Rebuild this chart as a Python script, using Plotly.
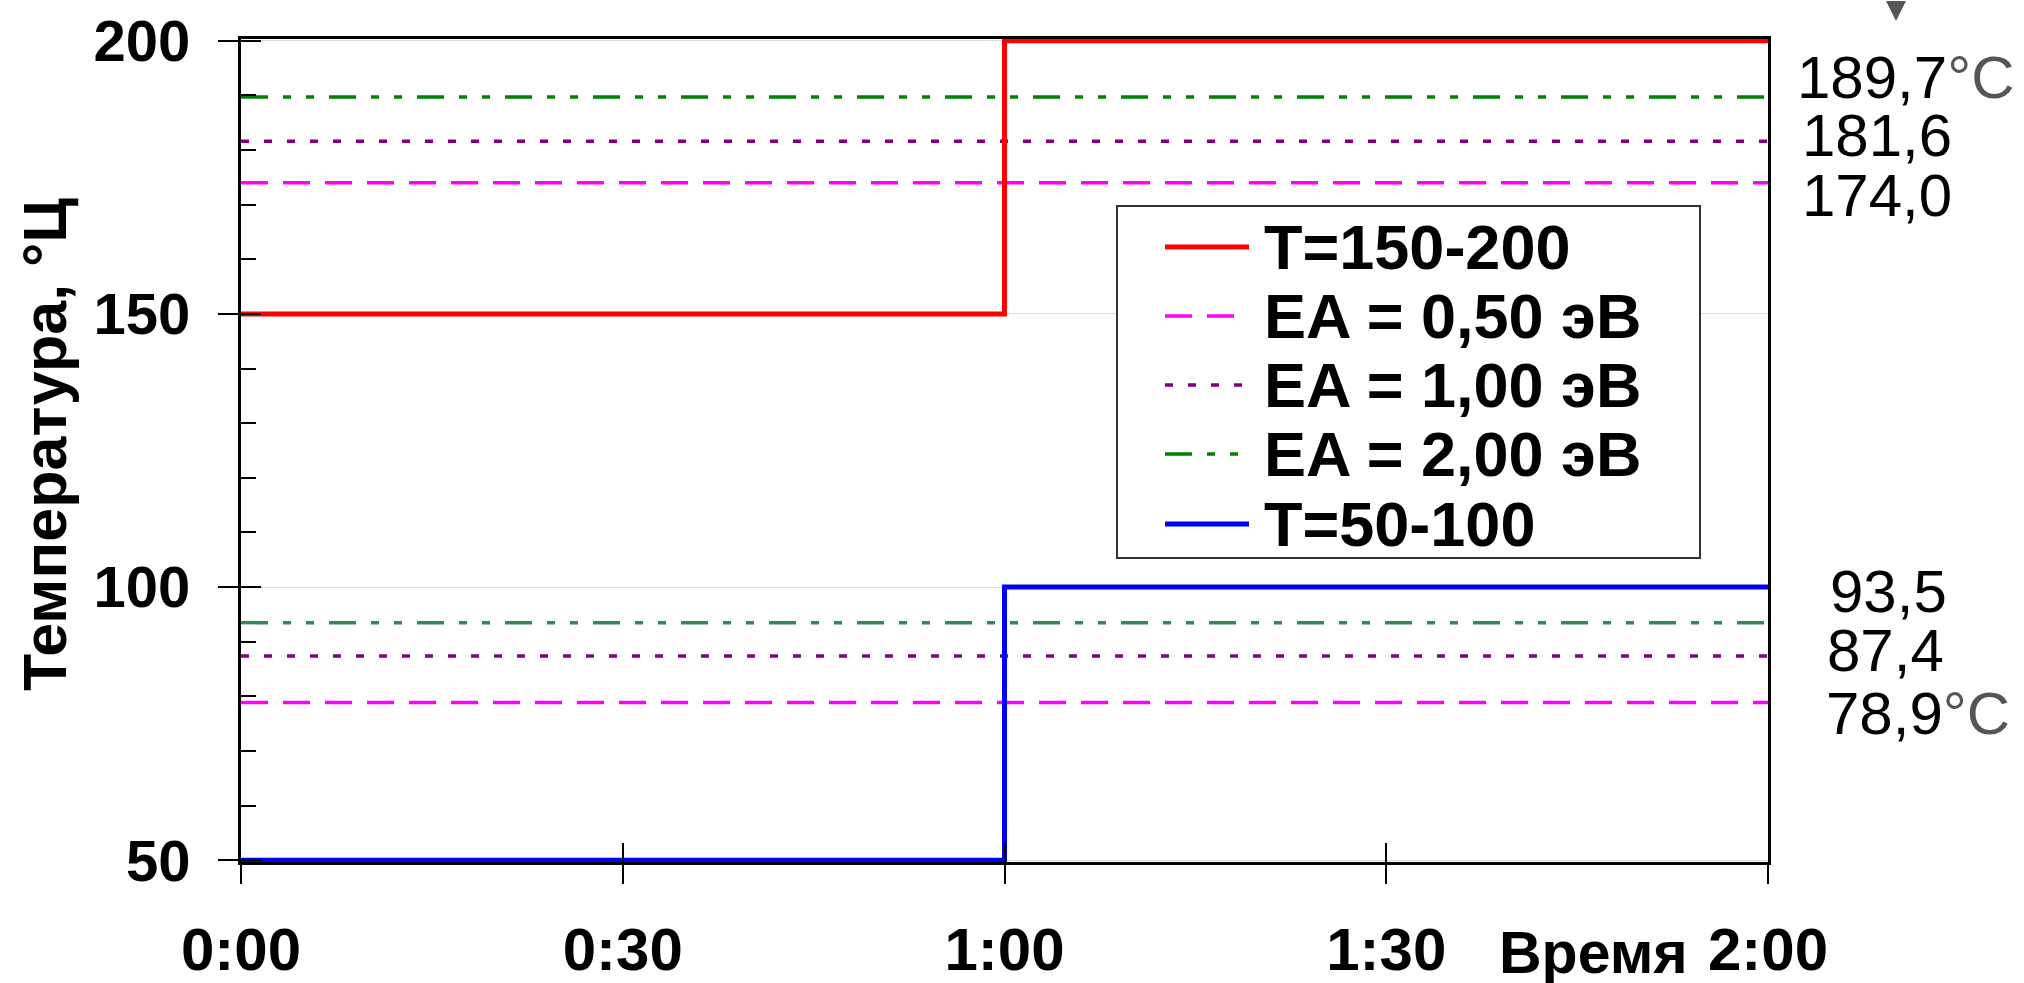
import plotly.graph_objects as go

# ---------------- data ----------------
time_min = [0, 60, 120]
tick_vals = [0, 30, 60, 90, 120]
tick_text = ["0:00", "0:30", "1:00", "1:30", "2:00"]
y_tick_vals = [50, 100, 150, 200]

t_high_name = "T=150-200"
t_high = [150, 200, 200]
t_low_name = "T=50-100"
t_low = [50, 100, 100]

ea_names = ["EA = 0,50 эВ", "EA = 1,00 эВ", "EA = 2,00 эВ"]
ea_high = [174.0, 181.6, 189.7]
ea_low = [78.9, 87.4, 93.5]

# ---------------- styles ----------------
FONT = "Liberation Sans, Arial, sans-serif"
ea_col_high = ["#FF00FF", "#800080", "#008000"]
ea_col_low = ["#FF00FF", "#800080", "#2E8B57"]
ea_dash = ["27px,15px", "8px,15px", "27px,15px,8px,15px,8px,15px"]

W, H = 2024, 983
L, R, T, B = 241, 1768, 39, 862
PW, PH = R - L, B - T


def xp(px):
    return (px - L) / PW


def yp(py):
    return 1 - (py - T) / PH


fig = go.Figure()

for i in range(3):
    fig.add_trace(go.Scatter(x=[time_min[0], time_min[-1]], y=[ea_high[i]] * 2, mode="lines",
                             line=dict(color=ea_col_high[i], width=3.5, dash=ea_dash[i]),
                             showlegend=False, hoverinfo="skip"))
    fig.add_trace(go.Scatter(x=[time_min[0], time_min[-1]], y=[ea_low[i]] * 2, mode="lines",
                             line=dict(color=ea_col_low[i], width=3.5, dash=ea_dash[i]),
                             showlegend=False, hoverinfo="skip"))

fig.add_trace(go.Scatter(x=time_min, y=t_high, mode="lines", line_shape="hv",
                         line=dict(color="#FF0000", width=5), name=t_high_name, showlegend=False))
fig.add_trace(go.Scatter(x=time_min, y=t_low, mode="lines", line_shape="hv",
                         line=dict(color="#0000FF", width=5), name=t_low_name, showlegend=False))
# helper trace to create overlay axes (for ticks crossing the axis lines)
fig.add_trace(go.Scatter(x=[None], y=[None], xaxis="x2", yaxis="y2", showlegend=False, hoverinfo="skip"))

# ---------------- value labels on the right ----------------
high_shift = [-13, 6, 19]
high_x = [1800, 1800, 1795]
low_shift = [-11, 5, 31]
low_x = [1824, 1825, 1828]
deg = "<span style='color:#555555'>°C</span>"


def fmt(v):
    return f"{v:.1f}".replace(".", ",")


for i in range(3):
    txt = fmt(ea_high[i]) + (deg if i == 2 else "")
    fig.add_annotation(x=1, xref="paper", xanchor="left", xshift=high_x[i] - R,
                       y=ea_high[i], yref="y", yanchor="middle", yshift=high_shift[i],
                       text=txt, showarrow=False, font=dict(family=FONT, size=60, color="black"))
    txt = fmt(ea_low[i]) + (deg if i == 0 else "")
    fig.add_annotation(x=1, xref="paper", xanchor="left", xshift=low_x[i] - R,
                       y=ea_low[i], yref="y", yanchor="middle", yshift=low_shift[i],
                       text=txt, showarrow=False, font=dict(family=FONT, size=60, color="black"))

# ---------------- manual legend ----------------
shapes = [dict(type="rect", xref="paper", yref="paper", x0=xp(1117), x1=xp(1700), y0=yp(558), y1=yp(206),
               line=dict(color="#333333", width=2), fillcolor="white", layer="above")]
leg_items = [(t_high_name, "#FF0000", "solid", 5)] + \
            [(ea_names[i], ea_col_high[i], ea_dash[i], 3.5) for i in range(3)] + \
            [(t_low_name, "#0000FF", "solid", 5)]
rows = [247, 316, 385, 454, 524]
for (name, col, dash, wd), ry in zip(leg_items, rows):
    shapes.append(dict(type="line", xref="paper", yref="paper", x0=xp(1165), x1=xp(1249), y0=yp(ry), y1=yp(ry),
                       line=dict(color=col, width=wd, dash=dash), layer="above"))
    fig.add_annotation(x=xp(1262), xref="paper", xanchor="left", y=yp(ry), yref="paper", yanchor="middle",
                       text=f"<b>{name}</b>", showarrow=False, font=dict(family=FONT, size=63, color="black"))

# axis titles
fig.add_annotation(x=xp(45), xref="paper", y=yp(445), yref="paper", xanchor="center", yanchor="middle",
                   text="<b>Температура, °Ц</b>", textangle=-90, showarrow=False,
                   font=dict(family=FONT, size=61, color="black"))
fig.add_annotation(x=xp(1593), xref="paper", y=yp(953), yref="paper", xanchor="center", yanchor="middle",
                   text="<b>Время</b>", showarrow=False, font=dict(family=FONT, size=59, color="black"))

# small arrow at top right
fig.add_annotation(x=xp(1896), xref="paper", y=yp(21), yref="paper", ax=0, ay=-24, text="",
                   showarrow=True, arrowhead=2, arrowsize=2, arrowwidth=2, arrowcolor="#555555")

fig.update_layout(
    width=W, height=H,
    margin=dict(l=L, r=W - R, t=T, b=H - B, pad=0, autoexpand=False),
    paper_bgcolor="white", plot_bgcolor="white",
    shapes=shapes,
    showlegend=False,
    xaxis=dict(range=[time_min[0], time_min[-1]], tickvals=tick_vals, ticktext=tick_text,
               ticks="outside", ticklen=19, tickwidth=2, tickcolor="black",
               showline=True, linewidth=3, linecolor="black", mirror=True, automargin=False,
               showgrid=False, zeroline=False, ticklabelstandoff=14,
               tickfont=dict(family=FONT, size=60, color="black", weight="bold")),
    xaxis2=dict(overlaying="x", anchor="y", side="bottom", range=[time_min[0], time_min[-1]],
                tickvals=tick_vals, ticks="inside", ticklen=19, tickwidth=2, tickcolor="black",
                automargin=False,
                showticklabels=False, showline=False, showgrid=False, zeroline=False),
    yaxis=dict(range=[49.7, 200.3], tickvals=y_tick_vals,
               ticks="outside", ticklen=20, tickwidth=2, tickcolor="black",
               minor=dict(ticks="inside", ticklen=15, tickwidth=2, tickcolor="black", dtick=10, tick0=50,
                          showgrid=False),
               showline=True, linewidth=3, linecolor="black", mirror=True, automargin=False,
               showgrid=True, gridcolor="#d9d9d9", gridwidth=1, zeroline=False,
               ticklabelstandoff=16,
               tickfont=dict(family=FONT, size=58, color="black", weight="bold")),
    yaxis2=dict(overlaying="y", anchor="x", side="left", range=[49.7, 200.3], automargin=False,
                tickvals=y_tick_vals, ticks="inside", ticklen=20, tickwidth=2, tickcolor="black",
                showticklabels=False, showline=False, showgrid=False, zeroline=False),
)

fig.write_html("out.html", config={"displayModeBar": False},
               post_script="document.body.style.margin='0';document.body.style.overflow='hidden';")
